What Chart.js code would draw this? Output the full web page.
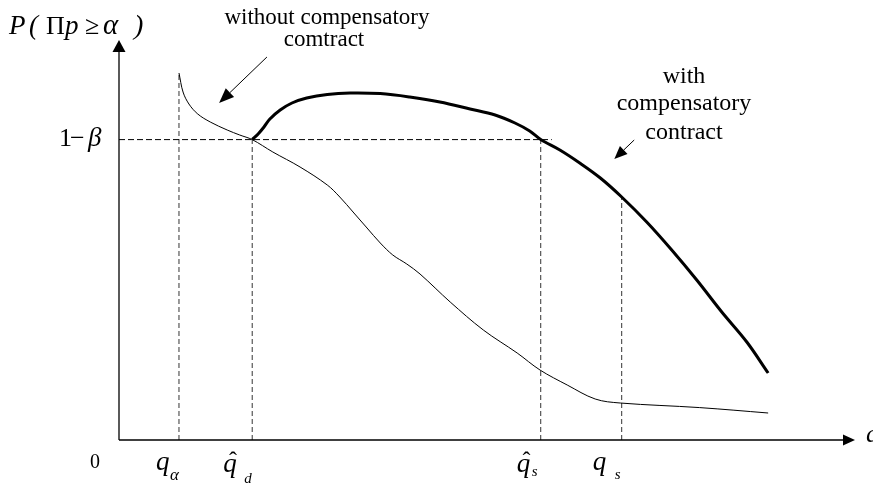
<!DOCTYPE html>
<html>
<head>
<meta charset="utf-8">
<script src="https://cdn.jsdelivr.net/npm/chart.js@4"></script>
<style>
html,body{margin:0;padding:0;background:#fff;}
canvas{display:block;}
</style>
</head>
<body>
<canvas id="c" width="873" height="487"></canvas>
<script>
// ---- data (x and y in arbitrary 0..100 units) ----
const thinX = [8.15, 8.7, 9.5, 10.7, 12.4, 14.7, 16.4, 18.1, 20.9, 24.6, 28.3, 30.0, 31.8, 33.7, 35.5, 37.2, 39.1, 40.9, 45.0, 49.5, 54.1, 57.2, 60.9, 64.7, 68.1, 78.9, 88.2];
const thinY = [91.75, 87, 84, 81.5, 79.5, 77.5, 76.25, 75.1, 72, 68.25, 63.75, 60.75, 57, 53, 49.25, 46.25, 44, 41.5, 34.5, 27.5, 21.75, 17.5, 13.75, 10.25, 9.25, 8.1, 6.75];
const thickX = [18.1, 18.9, 19.7, 20.5, 21.9, 23.5, 25.5, 28.3, 31.4, 35.5, 39.5, 43.6, 47.7, 51.1, 53.8, 55.8, 57.3, 59.9, 62.6, 65.4, 68.3, 71.7, 75.1, 78.5, 81.9, 85.3, 88.2];
const thickY = [75.1, 76.5, 78.25, 80.25, 82.5, 84.25, 85.5, 86.4, 86.75, 86.6, 85.75, 84.5, 82.75, 81.25, 79.25, 77.25, 75.1, 72.5, 69.25, 65.5, 60.75, 54.5, 47.5, 40, 32, 24.5, 16.75];
const markerNames = ['qAlpha', 'qHatD', 'qHatS', 'qS'];
const markerX = [8.15, 18.1, 57.3, 68.3];
const markerTop = [91.75, 75.1, 75.1, 60.75];
const markerSub = ['α', 'd', 's', 's'];
const markerHat = [false, true, true, false];
const levelY = 75.1;          // 1 - beta
const levelEndX = 58.8;
const yAxisLabel = ['P', '(', 'Π', 'p', '≥', 'α', ')'];
const levelLabel = ['1', '−', 'β'];
const originLabel = '0';
const xAxisLabel = 'q';
const noteWithout = ['without compensatory', 'comtract'];
const noteWith = ['with', 'compensatory', 'contract'];
const arrowWithout = [[20.1, 95.75], [13.6, 84.25]];
const arrowWith = [[70.0, 75.0], [67.3, 70.25]];

const pts = (xs, ys) => xs.map((x, i) => ({x: x, y: ys[i]}));

const datasets = [
  {data: pts(thinX, thinY), borderColor: '#000', borderWidth: 1, pointRadius: 0, showLine: true, tension: 0.35, fill: false},
  {data: pts(thickX, thickY), borderColor: '#000', borderWidth: 3, pointRadius: 0, showLine: true, tension: 0.35, fill: false},
  {data: [{x: 0, y: levelY}, {x: levelEndX, y: levelY}], borderColor: '#000', borderWidth: 1, borderDash: [6, 3], pointRadius: 0, showLine: true}
];
markerX.forEach((mx, i) => {
  datasets.push({data: [{x: mx, y: 0}, {x: mx, y: markerTop[i]}], borderColor: '#333', borderWidth: 1, borderDash: [5, 3], pointRadius: 0, showLine: true});
});

const SERIF = "'Liberation Serif', 'Times New Roman', serif";

function arrow(ctx, x1, y1, x2, y2, len, half) {
  const a = Math.atan2(y2 - y1, x2 - x1);
  const bx = x2 - len * Math.cos(a), by = y2 - len * Math.sin(a);
  ctx.beginPath();
  ctx.moveTo(x1, y1); ctx.lineTo(bx, by); ctx.stroke();
  ctx.beginPath();
  ctx.moveTo(x2, y2);
  ctx.lineTo(bx + half * Math.sin(a), by - half * Math.cos(a));
  ctx.lineTo(bx - half * Math.sin(a), by + half * Math.cos(a));
  ctx.closePath(); ctx.fill();
}

const decor = {
  id: 'decor',
  afterDraw(chart) {
    const ctx = chart.ctx, xs = chart.scales.x, ys = chart.scales.y;
    const X = v => xs.getPixelForValue(v), Y = v => ys.getPixelForValue(v);
    const x0 = X(0), y0 = Y(0), xTip = X(100), yTip = Y(100);
    ctx.save();
    ctx.strokeStyle = '#000'; ctx.fillStyle = '#000'; ctx.lineWidth = 1.3;
    // axes with arrow heads
    arrow(ctx, x0, y0, x0, yTip, 12, 6.5);
    arrow(ctx, x0, y0, xTip, y0, 12, 5.5);
    // annotation arrows
    ctx.lineWidth = 1;
    arrow(ctx, X(arrowWithout[0][0]), Y(arrowWithout[0][1]), X(arrowWithout[1][0]), Y(arrowWithout[1][1]), 15, 6);
    arrow(ctx, X(arrowWith[0][0]), Y(arrowWith[0][1]), X(arrowWith[1][0]), Y(arrowWith[1][1]), 13, 5.5);

    ctx.textBaseline = 'alphabetic';
    ctx.textAlign = 'left';
    const it = s => 'italic ' + s + 'px ' + SERIF, up = s => s + 'px ' + SERIF;
    // y-axis title, glyph by glyph
    const tX = [9, 29, 46, 65, 85, 103, 134];
    const tF = [it(27), it(27), up(26), it(27), up(26), it(29), it(28)];
    yAxisLabel.forEach((g, i) => { ctx.font = tF[i]; ctx.fillText(g, tX[i], 34); });
    // 1-beta
    const lb = Y(levelY) + 6;
    ctx.font = up(26); ctx.fillText(levelLabel[0], x0 - 60, lb);
    ctx.fillText(levelLabel[1], x0 - 49, lb);
    ctx.font = it(27); ctx.fillText(levelLabel[2], x0 - 31, lb);
    // origin
    ctx.font = up(20); ctx.textAlign = 'center';
    ctx.fillText(originLabel, x0 - 24, y0 + 28);
    ctx.textAlign = 'left';
    // x-axis label
    ctx.font = it(26); ctx.fillText(xAxisLabel, xTip + 11, y0 + 2);
    // marker labels
    const qOff = [-23, -29, -24, -29];
    const qBase = [470, 472, 472, 470];
    const sOff = [-9, -8, -9, -7];
    const sBase = [480, 483, 476, 479];
    const sFont = [it(17), it(15), it(15), it(15)];
    markerX.forEach((mx, i) => {
      const px = X(mx);
      const lx = px + qOff[i];
      ctx.font = it(27);
      ctx.fillText('q', lx, qBase[i]);
      const qw = ctx.measureText('q').width;
      if (markerHat[i]) {
        ctx.font = up(24); ctx.textAlign = 'center';
        ctx.fillText('ˆ', lx + qw / 2 + 3, qBase[i] - 4);
        ctx.textAlign = 'left';
      }
      ctx.font = sFont[i];
      ctx.fillText(markerSub[i], px + sOff[i], sBase[i]);
    });
    // notes
    ctx.textAlign = 'center';
    ctx.font = up(23);
    ctx.fillText(noteWithout[0], 327, 24);
    ctx.fillText(noteWithout[1], 324, 46);
    ctx.font = up(24);
    ctx.fillText(noteWith[0], 684, 83);
    ctx.fillText(noteWith[1], 684, 110);
    ctx.fillText(noteWith[2], 684, 139);
    ctx.restore();
  }
};

new Chart(document.getElementById('c'), {
  type: 'scatter',
  data: {datasets: datasets},
  options: {
    responsive: false,
    animation: false,
    layout: {padding: {left: 119, right: 18, top: 40, bottom: 47}},
    plugins: {legend: {display: false}, tooltip: {enabled: false}, title: {display: false}},
    scales: {
      x: {type: 'linear', min: 0, max: 100, display: false},
      y: {type: 'linear', min: 0, max: 100, display: false}
    }
  },
  plugins: [decor]
});
</script>
</body>
</html>
